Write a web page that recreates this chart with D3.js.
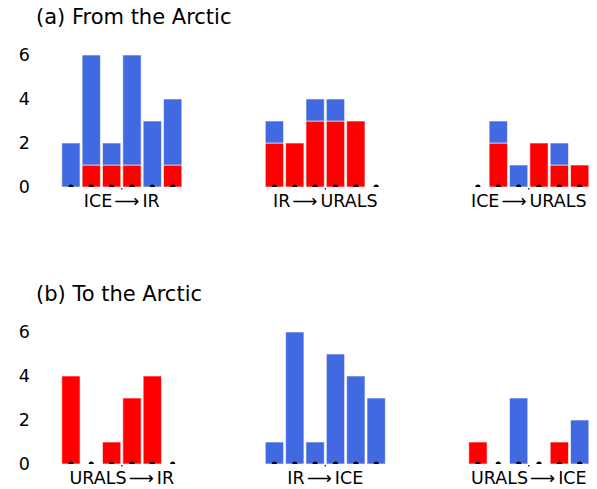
<!DOCTYPE html>
<html lang="en">
<head>
<meta charset="UTF-8">
<title>Arctic transitions</title>
<script src="https://cdnjs.cloudflare.com/ajax/libs/d3/7.8.5/d3.js"></script>
<style>
    body { margin: 0; background: #fff; }
    text { font-family: "DejaVu Sans", sans-serif; }
</style>
</head>
<body>
<svg width="597" height="489"></svg>
<script>
    // data
    const panelTitles = ["(a) From the Arctic", "(b) To the Arctic"];
    const groupFrom = [["ICE", "IR", "ICE"], ["URALS", "IR", "URALS"]];
    const groupTo = [["IR", "URALS", "URALS"], ["IR", "ICE", "ICE"]];
    // red = lower part, blue = upper part of each bar
    const redA = [[0, 1, 1, 1, 0, 1], [2, 2, 3, 3, 3, 0], [0, 2, 0, 2, 1, 1]];
    const blueA = [[2, 5, 1, 5, 3, 3], [1, 0, 1, 1, 0, 0], [0, 1, 1, 0, 1, 0]];
    const redB = [[4, 0, 1, 3, 4, 0], [0, 0, 0, 0, 0, 0], [1, 0, 0, 0, 1, 0]];
    const blueB = [[0, 0, 0, 0, 0, 0], [1, 6, 1, 5, 4, 3], [0, 0, 3, 0, 0, 2]];
    const yTicks = [0, 2, 4, 6];

    const svg = d3.select("svg");
    const x = d3.scaleLinear().domain([0, 20]).range([121.8, 528.8]);
    const bw = 0.9;

    const panels = [
        {title: panelTitles[0], from: groupFrom[0], to: groupTo[0], red: redA, blue: blueA, y0: 187, titleY: 23.5, labelY: 207},
        {title: panelTitles[1], from: groupFrom[1], to: groupTo[1], red: redB, blue: blueB, y0: 464, titleY: 301, labelY: 484}
    ];

    panels.forEach((p, pi) => {
        const y = d3.scaleLinear().domain([0, 6]).range([p.y0, p.y0 - 132]);
        const g = svg.append("g");

        g.append("text")
            .attr("x", 36).attr("y", p.titleY)
            .attr("font-size", 21)
            .text(p.title);

        const axis = g.append("g")
            .attr("transform", "translate(31,0)")
            .call(d3.axisLeft(y).tickValues(yTicks).tickFormat(d3.format("d")).tickSize(0).tickPadding(1));
        axis.select(".domain").remove();
        axis.attr("font-size", 17.5).attr("font-family", "DejaVu Sans, sans-serif");
        axis.selectAll("text").attr("fill", "#000");

        // clip so the markers only show above the baseline
        g.append("clipPath").attr("id", "clip" + pi)
            .append("rect").attr("x", 0).attr("y", 0).attr("width", 597).attr("height", p.y0);

        const rows = [];
        p.red.forEach((grp, gi) => grp.forEach((r, k) => {
            rows.push({pos: gi * 10 + k - 2.5, red: r, blue: p.blue[gi][k]});
        }));
        const series = d3.stack().keys(["red", "blue"])(rows);
        const colors = {red: "#ff0000", blue: "#4169e1"};

        series.forEach(s => {
            g.append("g").selectAll("rect")
                .data(s.filter(d => d[1] > d[0]))
                .join("rect")
                .attr("x", d => x(d.data.pos - bw / 2))
                .attr("width", x(bw) - x(0))
                .attr("y", d => y(d[1]))
                .attr("height", d => y(d[0]) - y(d[1]))
                .attr("fill", colors[s.key])
                .attr("stroke", "#fff")
                .attr("stroke-opacity", 0.6)
                .attr("stroke-width", 1);
        });

        g.append("g").attr("clip-path", "url(#clip" + pi + ")")
            .selectAll("circle")
            .data(rows)
            .join("circle")
            .attr("cx", d => x(d.pos))
            .attr("cy", y(0))
            .attr("r", 2.6)
            .attr("fill", "#000");

        p.from.forEach((src, gi) => {
            g.append("rect")
                .attr("x", x(gi * 10) - 0.6).attr("y", y(0) + 1)
                .attr("width", 1.2).attr("height", 1.5)
                .attr("fill", "#000");
            const t = g.append("text")
                .attr("x", x(gi * 10)).attr("y", p.labelY)
                .attr("text-anchor", "middle")
                .attr("font-size", 17.5);
            t.append("tspan").text(src);
            t.append("tspan").attr("dx", 2).text("\u27F6");
            t.append("tspan").attr("dx", 3).text(p.to[gi]);
        });
    });
</script>
</body>
</html>
